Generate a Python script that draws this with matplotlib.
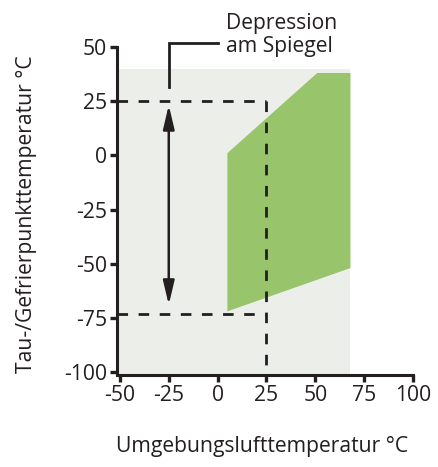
import matplotlib.pyplot as plt

# data (deg C)
region_x = [5, 51, 68, 68, 5]
region_y = [1, 38, 38, -52, -72]
bg_xmax, bg_ymax = 68, 40
ambient = 25
dew_top, dew_bottom = 25, -73
arrow_x = -25
xticks = [-50, -25, 0, 25, 50, 75, 100]
yticks = [50, 25, 0, -25, -50, -75, -100]

plt.rcParams['font.family'] = ['Open Sans', 'DejaVu Sans']
plt.rcParams['axes.unicode_minus'] = False
ink = '#231f20'
fs = 15.2

fig = plt.figure(figsize=(4.38, 4.67), dpi=100)
ax = fig.add_axes([0.2671, 0.1964, 0.6758, 0.703])
ax.set_xlim(-51.5, 100)
ax.set_ylim(-101.5, 50)

ax.fill_between([-51.5, bg_xmax], -101.5, bg_ymax, color='#eceeea', lw=0, zorder=0)
ax.fill(region_x, region_y, color='#98c46c', lw=0, zorder=1)

dash = dict(color=ink, lw=2.0, dashes=(3.8, 3.8), zorder=2)
ax.plot([-51.5, ambient], [dew_top, dew_top], **dash)
ax.plot([-51.5, ambient], [dew_bottom, dew_bottom], **dash)
ax.plot([ambient, ambient], [dew_top, -101.5], **dash)

ax.annotate('', xy=(arrow_x, dew_bottom + 4), xytext=(arrow_x, dew_top - 1.8),
            arrowprops=dict(arrowstyle='<|-|>,head_length=0.72,head_width=0.17',
                            color=ink, lw=1.8, mutation_scale=20,
                            shrinkA=0, shrinkB=0), zorder=3)

ax.plot([arrow_x, arrow_x, 0], [31.5, 52, 52], color=ink, lw=2.0,
        clip_on=False, solid_joinstyle='miter', zorder=3)
ax.text(4.5, 55.5, 'Depression\nam Spiegel', ha='left', va='center',
        fontsize=fs, color=ink, linespacing=1.15)

ax.set_xticks(xticks)
ax.set_yticks(yticks)
ax.tick_params(labelsize=fs, colors=ink, width=2.4, length=5, pad=2)
for s in ['top', 'right']:
    ax.spines[s].set_visible(False)
for s in ['left', 'bottom']:
    ax.spines[s].set_linewidth(2.2)
    ax.spines[s].set_color(ink)

ax.set_xlabel('Umgebungslufttemperatur °C', fontsize=fs, color=ink)
ax.set_ylabel('Tau-/Gefrierpunkttemperatur °C', fontsize=fs, color=ink)
ax.xaxis.set_label_coords(0.49, -0.185)
ax.yaxis.set_label_coords(-0.27, 0.49)

fig.savefig('out.png', dpi=100)
